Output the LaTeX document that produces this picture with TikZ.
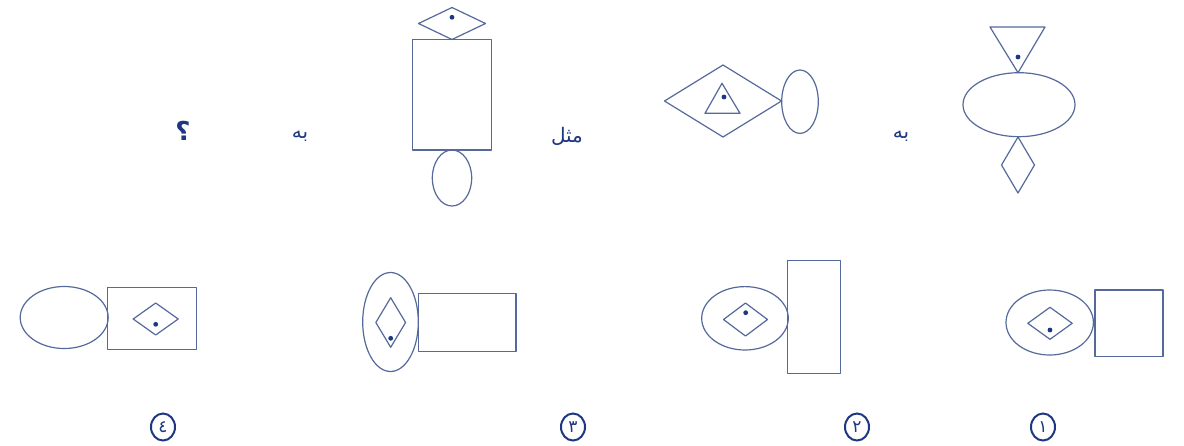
\documentclass[tikz,border=0pt]{standalone}
\usepackage{fontspec}
\usetikzlibrary{shapes.geometric}
\newfontfamily\arabicfont[Script=Arabic]{DejaVu Sans}
\TeXXeTstate=1
\definecolor{lin}{RGB}{85,105,155}
\definecolor{ink}{RGB}{30,55,130}
\newcommand\pzdia[4]{\draw[shp] ({#1-#3/2},#2) -- (#1,{#2-#4/2}) -- ({#1+#3/2},#2) -- (#1,{#2+#4/2}) -- cycle;}
\newcommand\pzdot[2]{\fill[ink] (#1,#2) circle[radius=2.4pt];}
\begin{document}
\begin{tikzpicture}[x=1pt,y=-1pt,
  shp/.style={draw=lin,line width=1.2pt,line join=round},
  lbl/.style={text=ink,font=\arabicfont\fontsize{20}{22}\selectfont,inner sep=0pt},
  num/.style={ellipse,draw=ink,line width=2pt,minimum width=24pt,minimum height=27pt,inner sep=0pt,text=ink,font=\arabicfont\fontsize{17}{19}\selectfont}]
\useasboundingbox[fill=white] (0,0) rectangle (1184,445);
% item A (right)
\draw[shp] (990,27) -- (1045,27) -- (1018,72.7) -- cycle;
\pzdot{1018}{57}
\draw[shp] (1019,104.7) ellipse[x radius=56pt,y radius=32pt];
\pzdia{1018}{165}{33}{56}
\node[lbl] (ba1) at (901,136) {\beginR به\endR};
% item B
\pzdia{723}{101}{117}{72}
\draw[shp] (705,113.3) -- (740,113.3) -- (722,83.3) -- cycle;
\pzdot{724}{97}
\draw[shp] (800,101.7) ellipse[x radius=18.3pt,y radius=31.7pt];
\node[lbl] (mesl) at (567,136) {\beginR مثل\endR};
% item C
\pzdia{452}{23.5}{67}{32}
\pzdot{452}{17.3}
\draw[shp] (412.7,39.3) rectangle (491.7,150);
\draw[shp] (452,178) ellipse[x radius=19.7pt,y radius=28pt];
\node[lbl] (ba2) at (300,136) {\beginR به\endR};
\node[lbl,font=\arabicfont\bfseries\fontsize{26}{28}\selectfont] (q) at (183,131) {\beginR ؟\endR};
% option 1
\draw[shp] (1049.7,322.5) ellipse[x radius=43.7pt,y radius=32.5pt];
\pzdia{1050}{323.3}{44.4}{32}
\pzdot{1050}{330}
\draw[shp] (1095,290) rectangle (1163,356.7);
% option 2
\draw[shp] (745,318.3) ellipse[x radius=43.3pt,y radius=31.7pt];
\pzdia{745.5}{319.5}{44}{33}
\pzdot{745.7}{312.7}
\draw[shp] (787.7,260.7) rectangle (840.7,373.3);
% option 3
\draw[shp] (390.5,322) ellipse[x radius=27.8pt,y radius=49.5pt];
\pzdia{390.7}{322.5}{29.7}{49.6}
\pzdot{390.7}{338.3}
\draw[shp] (418.3,293.3) rectangle (516,351.7);
% option 4
\draw[shp] (64.2,317.5) ellipse[x radius=44pt,y radius=31pt];
\draw[shp] (107.3,287.3) rectangle (196.7,349.3);
\pzdia{155.7}{319}{45}{32}
\pzdot{155.7}{324.3}
% numbers
\node[num] (n1) at (1043,427) {۱};
\node[num] (n2) at (857,427) {۲};
\node[num] (n3) at (573,427) {۳};
\node[num] (n4) at (163,427) {٤};
\end{tikzpicture}
\end{document}
